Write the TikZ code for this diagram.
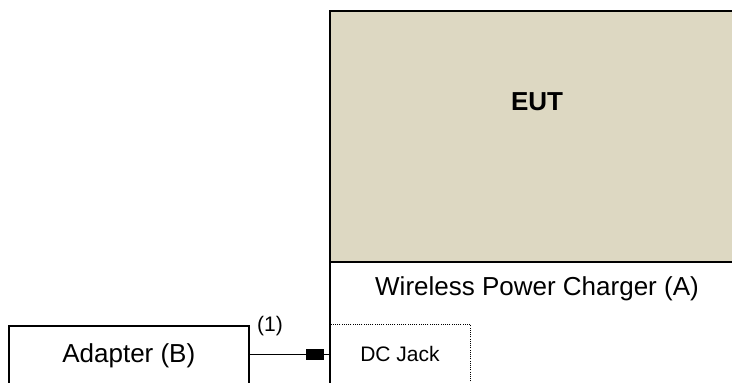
\documentclass[tikz,border=0pt]{standalone}
\usepackage{fontspec}
\setmainfont{Liberation Sans}
\usetikzlibrary{positioning,calc}
\definecolor{eutbeige}{HTML}{DDD8C2}

\begin{document}
\begin{tikzpicture}[x=1pt,y=-1pt,
  unit/.style={draw=black,line width=1.6pt,anchor=north west,inner sep=0pt},
  jackbox/.style={draw=black,line width=1pt,dash pattern=on 1pt off 1.2pt,anchor=north west,inner sep=0pt},
  plug/.style={fill=black,inner sep=0pt,minimum width=18pt,minimum height=11pt},
  big/.style={font=\fontsize{26}{30}\selectfont},
  small/.style={font=\fontsize{21}{25}\selectfont},
  cable/.style={line width=1.3pt,draw=black}
]
\useasboundingbox (0,0) rectangle (732,383);
\clip (0,0) rectangle (732,383);
\node[unit,minimum width=430pt,minimum height=400pt] (charger) at (329,10) {};
\node[unit,fill=eutbeige,minimum width=430pt,minimum height=251pt] (eut) at (329,10) {};
\node[big,font=\fontsize{26}{30}\selectfont\bfseries] (eutlbl) at (537,102) {EUT};
\node[big] (chargerlbl) at (537,289) {Wireless Power Charger (A)};
\node[jackbox,minimum width=140pt,minimum height=62pt] (jack) at (330,324) {};
\node[small] (jacklbl) at (400,354) {DC Jack};
\node[unit,big,minimum width=240pt,minimum height=60pt] (adapter) at (8,325) {Adapter (B)};
\node[plug] (dcplug) at (315,354.5) {};
\draw[cable] (adapter.east |- dcplug) -- (dcplug.west);
\draw[cable] (dcplug.east) -- (charger.west |- dcplug);
\node[small] (cablelbl) at (270,326) {(1)};
\end{tikzpicture}
\end{document}
